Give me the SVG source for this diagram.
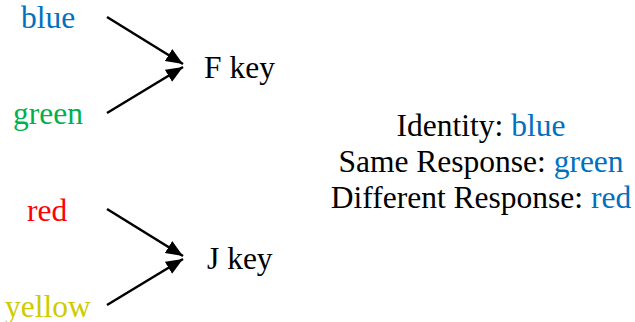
<svg xmlns="http://www.w3.org/2000/svg" width="635" height="322" viewBox="0 0 635 322">
<style>
text{font-family:"Liberation Serif","Times New Roman",serif;font-size:31.5px;fill:#000}
.b{fill:#0070C0}.g{fill:#00B050}.r{fill:#FF0000}.y{fill:#CCCC00}
.c line{stroke:#000;stroke-width:2.5;marker-end:url(#ah)}
</style>
<defs>
<marker id="ah" markerUnits="userSpaceOnUse" markerWidth="20" markerHeight="16" refX="17" refY="7" orient="auto">
<path d="M0,0 L17,7 L0,14 z" fill="#000"/>
</marker>
</defs>
<g id="n-blue"><text class="b" x="21" y="28">blue</text></g>
<g id="n-green"><text class="g" x="13" y="124">green</text></g>
<g id="n-red"><text class="r" x="27" y="221">red</text></g>
<g id="n-yellow"><text class="y" x="5" y="317">yellow</text></g>
<g id="n-fkey"><text x="204" y="78">F key</text></g>
<g id="n-jkey"><text x="207" y="269">J key</text></g>
<g id="legend">
<text x="481" y="136" text-anchor="middle">Identity: <tspan class="b">blue</tspan></text>
<text x="481" y="172" text-anchor="middle">Same Response: <tspan class="b">green</tspan></text>
<text x="481" y="208" text-anchor="middle">Different Response: <tspan class="b">red</tspan></text>
</g>
<g id="connectors" class="c">
<line x1="107" y1="17" x2="183" y2="64"/>
<line x1="107" y1="113" x2="183" y2="67"/>
<line x1="107" y1="209" x2="183" y2="256"/>
<line x1="107" y1="305" x2="183" y2="259"/>
</g>
</svg>
